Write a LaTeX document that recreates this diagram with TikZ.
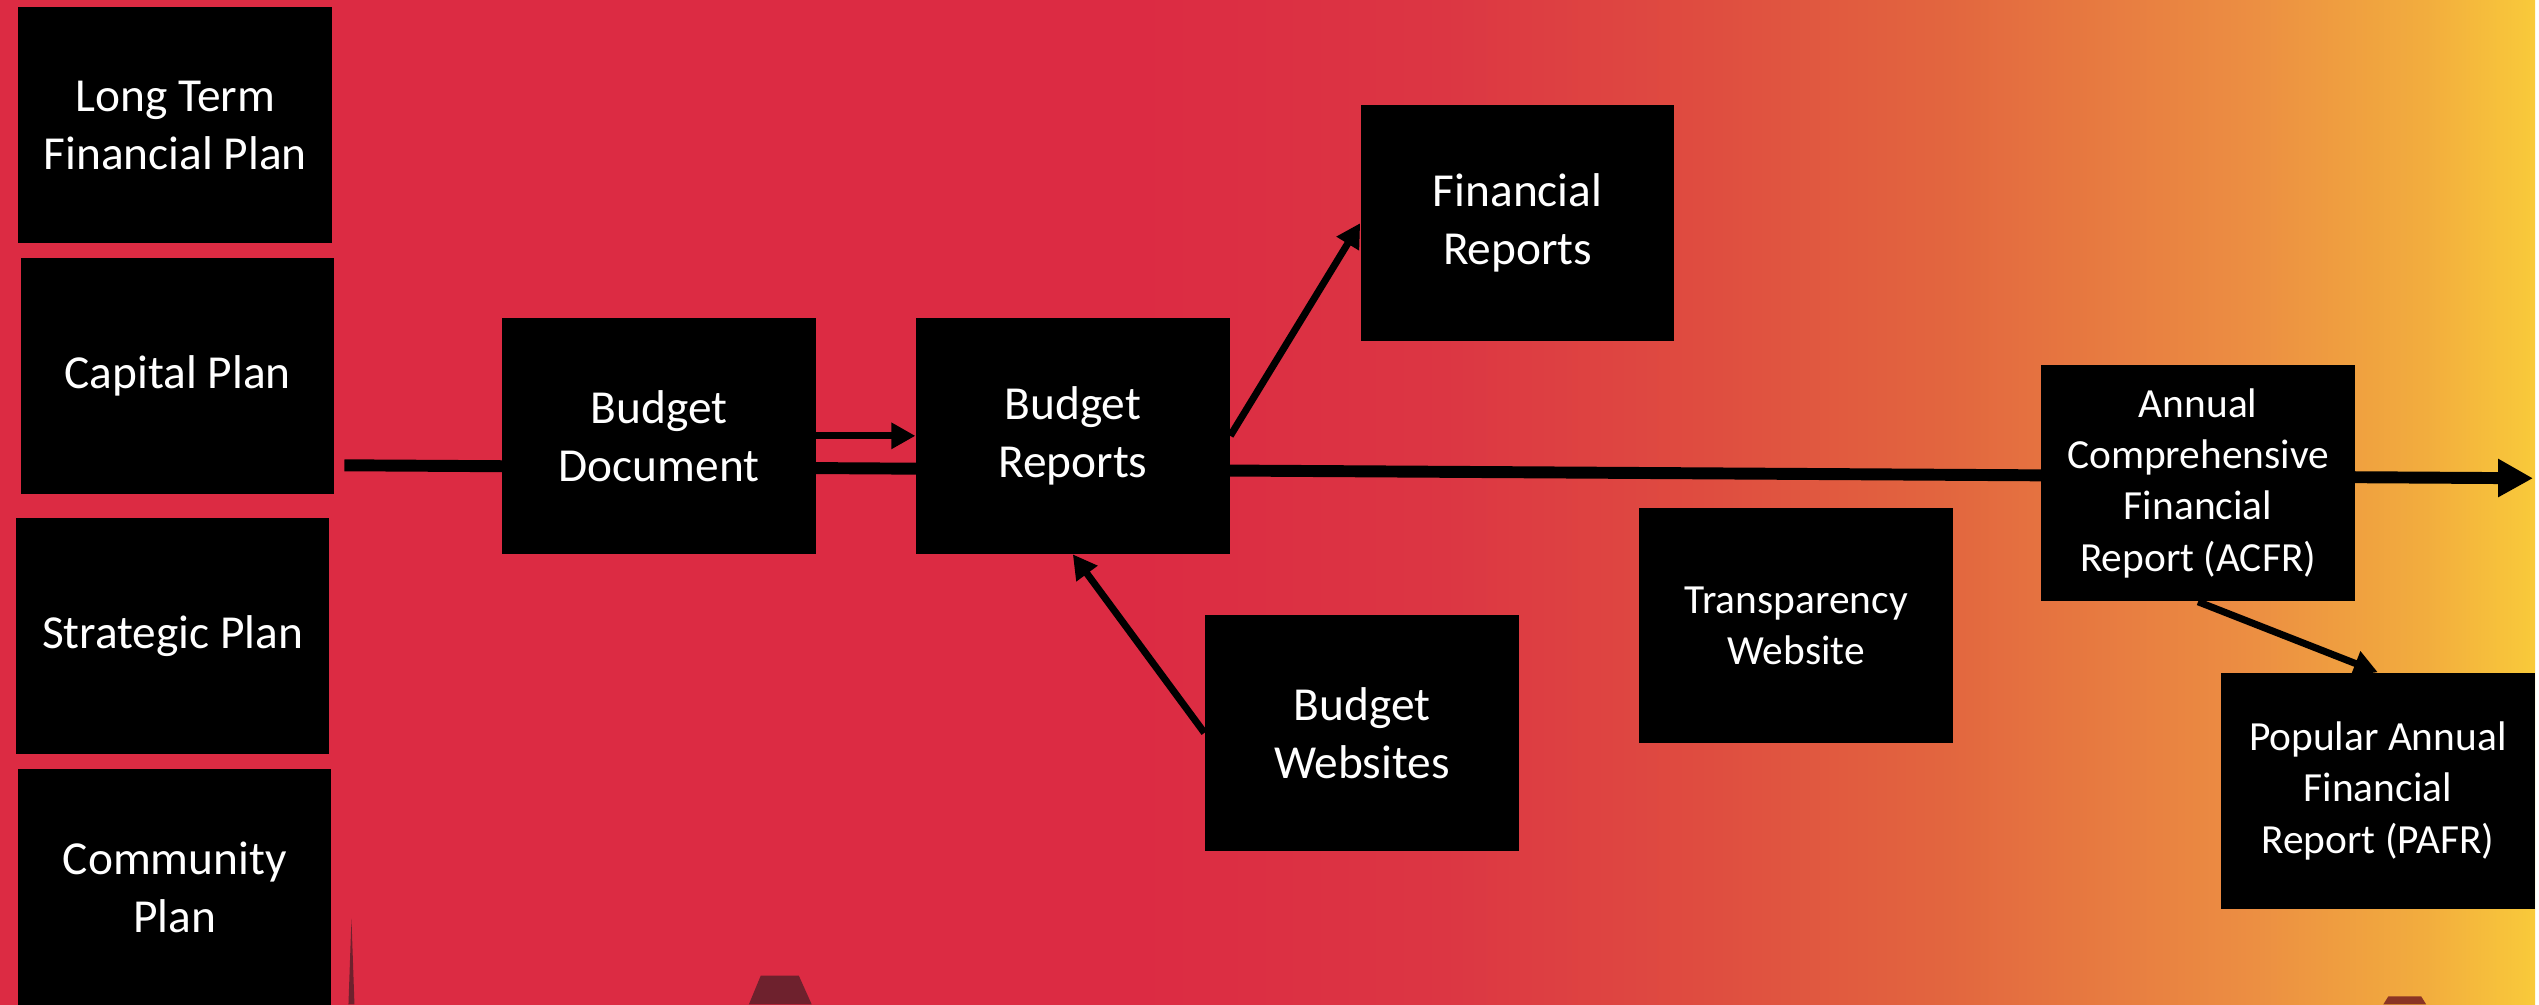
\documentclass[tikz,border=0pt]{standalone}
\usepackage{fontspec}
\setmainfont{Carlito}
\usetikzlibrary{arrows.meta}

\definecolor{bgred}{HTML}{DC2B43}
\definecolor{bgredb}{HTML}{DC3643}
\definecolor{bgcoral}{HTML}{DF4C40}
\definecolor{bgorange}{HTML}{E2653F}
\definecolor{bgamber}{HTML}{EC8F42}
\definecolor{bggold}{HTML}{F2AD3E}
\definecolor{bgyellow}{HTML}{F9CA3A}
\definecolor{skyline}{HTML}{6E212D}

% sunset band behind everything, red on the left going to yellow
\pgfdeclarehorizontalshading{dusk}{100bp}{color(0bp)=(bgred); color(47.5bp)=(bgred);
  color(53.5bp)=(bgredb); color(58.5bp)=(bgcoral); color(63.25bp)=(bgorange);
  color(69.5bp)=(bgamber); color(72.85bp)=(bggold); color(75bp)=(bgyellow);
  color(100bp)=(bgyellow)}

\pgfdeclarelayer{sky}
\pgfdeclarelayer{background}
\pgfsetlayers{sky,background,main}

\begin{document}
\begin{tikzpicture}[
	box/.style={fill=black, text=white, minimum width=3.14cm, minimum height=2.36cm,
		inner sep=0pt, align=center, font=\fontsize{13.5}{16.5}\selectfont},
	smallbox/.style={box, font=\fontsize{11.8}{14.6}\selectfont},
	trunk/.style={line width=3.4pt, -{Triangle[length=0.35cm,width=0.36cm]}},
	link/.style={line width=2pt, -{Triangle[length=0.24cm,width=0.25cm]}}]

	\begin{pgfonlayer}{sky}
	\shade[shading=dusk] (0,0) rectangle (25.39,-10.06);

	% bits of the skyline along the bottom edge
	\fill[skyline] (3.49,-10.06) -- (3.52,-9.20) -- (3.55,-10.06) -- cycle;
	\fill[skyline] (7.50,-10.06) -- (7.62,-9.77) -- (8.00,-9.77) -- (8.13,-10.06) -- cycle;
	\fill[skyline!80!orange] (23.87,-10.06) -- (23.92,-9.98) -- (24.25,-9.98) -- (24.30,-10.06) -- cycle;
	\end{pgfonlayer}

	% plans
	\node[box] (ltfp) at (1.755,-1.255) {Long Term\\Financial Plan};
	\node[box] (cap) at (1.78,-3.765) {Capital Plan};
	\node[box] (strat) at (1.73,-6.37) {Strategic Plan};
	\node[box] (comm) at (1.75,-8.885) {Community\\Plan};

	%-------------------------------------
	\node[box] (bdoc) at (6.60,-4.365) {Budget\\Document};
	\node[box] (brep) at (10.745,-4.365) {Budget\\Reports};
	\node[box] (finrep) at (15.20,-2.235) {Financial\\Reports};
	\node[box] (bweb) at (13.64,-7.34) {Budget\\Websites};
	\node[smallbox] (trans) at (17.99,-6.265) {Transparency\\Website};
	\node[smallbox] (acfr) at (22.015,-4.84) {Annual\\Comprehensive\\Financial\\Report (ACFR)};
	\node[smallbox] (pafr) at (23.815,-7.92) {Popular Annual\\Financial\\Report (PAFR)};

	% long line running under the boxes
	\coordinate (trunkin) at (3.45,-4.66);
	\coordinate (trunkout) at (25.37,-4.79);
	\begin{pgfonlayer}{background}
	\draw[trunk] (trunkin) -- (trunkout);
	\end{pgfonlayer}

	\draw[link] (bdoc.east) -- (brep.west);
	\draw[link] (brep.east) -- (finrep.west);
	\draw[link] (bweb.west) -- (brep.south);
	\draw[link] (acfr.south) -- (pafr.north);

\end{tikzpicture}
\end{document}
